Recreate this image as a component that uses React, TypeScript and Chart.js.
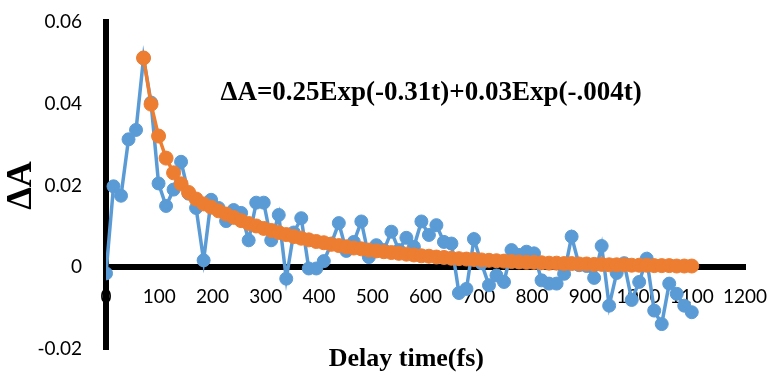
import React, { useEffect, useRef } from "react";
import { Chart, registerables } from "chart.js";

Chart.register(...registerables);

// Pump–probe delay times (fs)
const delayTimes = [
  0, 14.1, 28.2, 42.3, 56.4, 70.5, 84.6, 98.7, 112.8, 126.9,
  141.0, 155.1, 169.2, 183.3, 197.4, 211.5, 225.6, 239.7, 253.8, 267.9,
  282.1, 296.2, 310.3, 324.4, 338.5, 352.6, 366.7, 380.8, 394.9, 409.0,
  423.1, 437.2, 451.3, 465.4, 479.5, 493.6, 507.7, 521.8, 535.9, 550.0,
  564.1, 578.2, 592.3, 606.4, 620.5, 634.6, 648.7, 662.8, 676.9, 691.0,
  705.1, 719.2, 733.3, 747.4, 761.5, 775.6, 789.7, 803.8, 817.9, 832.1,
  846.2, 860.3, 874.4, 888.5, 902.6, 916.7, 930.8, 944.9, 959.0, 973.1,
  987.2, 1001.3, 1015.4, 1029.5, 1043.6, 1057.7, 1071.8, 1085.9, 1100.0,
];

// Measured transient absorption ΔA
const measuredDA = [
  -0.0015, 0.0198, 0.0175, 0.0313, 0.0336, 0.0512, 0.0403, 0.0205, 0.0150, 0.0190,
  0.0258, 0.0180, 0.0145, 0.0017, 0.0165, 0.0145, 0.0113, 0.0140, 0.0133, 0.0066,
  0.0158, 0.0158, 0.0066, 0.0128, -0.0028, 0.0085, 0.0120, -0.0003, -0.0003, 0.0015,
  0.0058, 0.0108, 0.0040, 0.0062, 0.0112, 0.0025, 0.0054, 0.0042, 0.0087, 0.0042,
  0.0072, 0.0050, 0.0112, 0.0079, 0.0103, 0.0062, 0.0058, -0.0063, -0.0053, 0.0069,
  0.0010, -0.0044, -0.0020, -0.0036, 0.0042, 0.0030, 0.0038, 0.0034, -0.0032, -0.0040,
  -0.0040, -0.0016, 0.0075, 0.0005, 0.0003, -0.0026, 0.0052, -0.0094, -0.0014, 0.0010,
  -0.0080, -0.0036, 0.0021, -0.0106, -0.0139, -0.0040, -0.0065, -0.0094, -0.0110,
];

// Bi-exponential fit, starting at the signal maximum
const fitStartIndex = 5;
const fitDA = [
  0.0512, 0.0399, 0.0321, 0.0267, 0.0231, 0.0204, 0.0183, 0.0167, 0.0155, 0.0147,
  0.0138, 0.0130, 0.0122, 0.0114, 0.0107, 0.0101, 0.0095, 0.0090, 0.0085, 0.0080,
  0.0075, 0.0071, 0.0067, 0.0063, 0.0060, 0.0056, 0.0053, 0.0050, 0.0047, 0.0045,
  0.0042, 0.0040, 0.0038, 0.0036, 0.0034, 0.0032, 0.0030, 0.0028, 0.0027, 0.0025,
  0.0024, 0.0022, 0.0021, 0.0020, 0.0019, 0.0018, 0.0017, 0.0016, 0.0015, 0.0014,
  0.0013, 0.0012, 0.0012, 0.0011, 0.0010, 0.0010, 0.0009, 0.0009, 0.0008, 0.0008,
  0.0007, 0.0007, 0.0006, 0.0006, 0.0006, 0.0005, 0.0005, 0.0005, 0.0004, 0.0004,
  0.0004, 0.0003, 0.0003, 0.0003,
];

const xTickValues = [0, 100, 200, 300, 400, 500, 600, 700, 800, 900, 1000, 1100, 1200];
const xTickLabels = ["0", "100", "200", "300", "400", "500", "600", "700", "800", "900", "1000", "1100", "1200"];
const yTickValues = [-0.02, 0, 0.02, 0.04, 0.06];
const yTickLabels = ["-0.02", "0", "0.02", "0.04", "0.06"];

const fitEquation = "ΔA=0.25Exp(-0.31t)+0.03Exp(-.004t)";
const equationAnchor = { t: 215, dA: 0.041 };
const xTitle = "Delay time(fs)";
const yTitle = "ΔA";

const BLUE = "#5B9BD5";
const ORANGE = "#ED7D31";
const SERIF = "'Liberation Serif', 'Times New Roman', serif";

const textPlugin = {
  id: "equationAndXTitle",
  afterDraw(chart: any) {
    const { ctx, chartArea } = chart;
    const x = chart.scales.x;
    const y = chart.scales.y;
    ctx.save();
    ctx.fillStyle = "#000";
    ctx.font = `bold 27px ${SERIF}`;
    ctx.textAlign = "left";
    ctx.textBaseline = "alphabetic";
    ctx.fillText(fitEquation, x.getPixelForValue(equationAnchor.t), y.getPixelForValue(equationAnchor.dA));
    ctx.font = `bold 26px ${SERIF}`;
    ctx.textAlign = "center";
    ctx.textBaseline = "middle";
    ctx.fillText(xTitle, chartArea.left + chartArea.width * 0.47, chartArea.bottom + 10);
    ctx.restore();
  },
};

export default function App() {
  const canvasRef = useRef<HTMLCanvasElement | null>(null);

  useEffect(() => {
    const canvas = canvasRef.current;
    if (!canvas) return;

    const measuredPoints = delayTimes.map((t, i) => ({ x: t, y: measuredDA[i] }));
    const fitPoints = fitDA.map((v, i) => ({ x: delayTimes[fitStartIndex + i], y: v }));

    const tickFont = { family: "Lato, 'Open Sans', sans-serif", size: 19 };

    const chart = new Chart(canvas, {
      type: "scatter",
      data: {
        datasets: [
          {
            label: "ΔA",
            data: measuredPoints,
            showLine: true,
            borderColor: BLUE,
            backgroundColor: BLUE,
            borderWidth: 3.5,
            pointRadius: 6.5,
            pointBorderWidth: 1,
            pointBackgroundColor: BLUE,
            pointBorderColor: BLUE,
            order: 2,
          },
          {
            label: "Fit",
            data: fitPoints,
            showLine: true,
            borderColor: ORANGE,
            backgroundColor: ORANGE,
            borderWidth: 3.5,
            pointRadius: 7,
            pointBorderWidth: 1,
            pointBackgroundColor: ORANGE,
            pointBorderColor: ORANGE,
            order: 1,
          },
        ],
      },
      options: {
        responsive: false,
        animation: false,
        devicePixelRatio: 1,
        layout: { autoPadding: false, padding: { left: 0, right: 24, top: 22, bottom: 24 } },
        plugins: {
          legend: { display: false },
          tooltip: { enabled: false },
        },
        scales: {
          x: {
            type: "linear",
            position: { y: 0 },
            min: 0,
            max: 1200,
            grid: { display: false, drawTicks: false },
            border: { display: true, color: "#000", width: 6 },
            afterBuildTicks: (scale: any) => {
              scale.ticks = xTickValues.map((v) => ({ value: v }));
            },
            afterFit: (scale: any) => {
              scale.height = 0;
              scale.paddingLeft = 0;
              scale.paddingRight = 0;
            },
            ticks: {
              autoSkip: false,
              maxRotation: 0,
              padding: 18,
              color: "#000",
              font: tickFont,
              callback: (_v: any, i: number) => xTickLabels[i],
            },
          },
          y: {
            type: "linear",
            position: "left",
            min: -0.02,
            max: 0.06,
            grid: { display: false, drawTicks: false },
            border: { display: true, color: "#000", width: 6 },
            afterBuildTicks: (scale: any) => {
              scale.ticks = yTickValues.map((v) => ({ value: v }));
            },
            afterFit: (scale: any) => {
              scale.width = 106;
              scale.paddingTop = 0;
              scale.paddingBottom = 0;
            },
            ticks: {
              padding: 24,
              color: "#000",
              font: tickFont,
              callback: (_v: any, i: number) => yTickLabels[i],
            },
            title: {
              display: true,
              text: yTitle,
              color: "#000",
              font: { family: SERIF, size: 36, weight: "bold" },
              padding: { top: 0, bottom: 0 },
            },
          },
        },
      },
      plugins: [textPlugin],
    });

    return () => chart.destroy();
  }, []);

  return (
    <div style={{ position: "absolute", left: 0, top: 0, width: 769, height: 373, background: "#fff" }}>
      <canvas ref={canvasRef} width={769} height={373} />
    </div>
  );
}
